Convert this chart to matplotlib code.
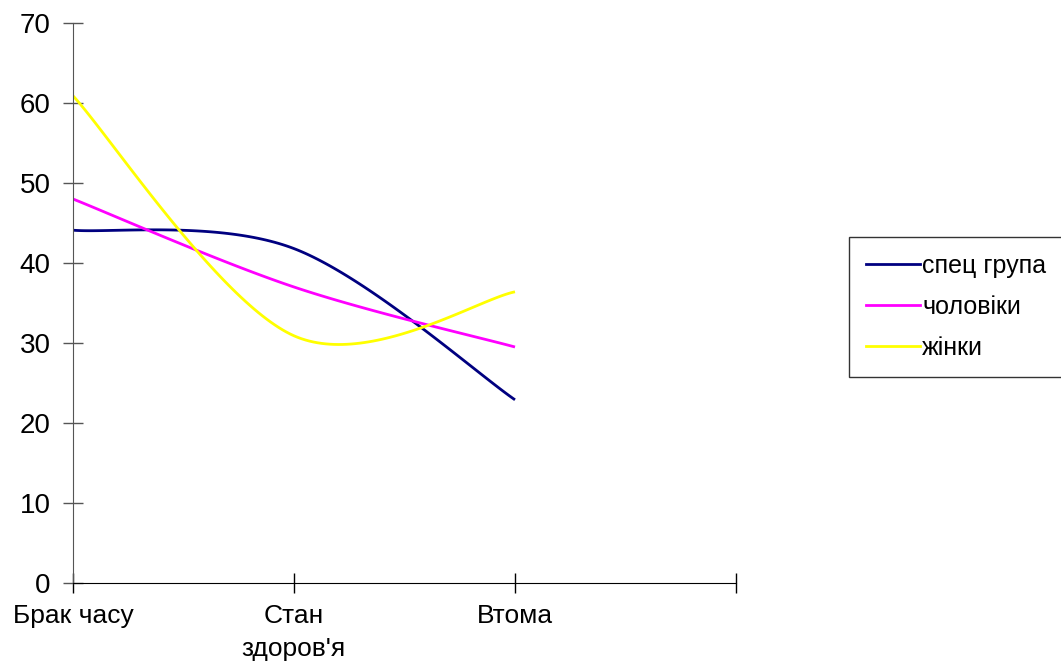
import numpy as np
import matplotlib
matplotlib.use("Agg")
import matplotlib.pyplot as plt
from matplotlib.lines import Line2D

plt.rcParams['font.family'] = ['Liberation Sans', 'DejaVu Sans']

categories = ["Брак часу", "Стан\nздоров'я", "Втома", ""]
series_names = ["спец група", "чоловіки", "жінки"]
spec_group = [44.1, 41.8, 22.9]
men = [48.0, 37.0, 29.5]
women = [60.9, 30.9, 36.4]
colors = ["#000080", "#FF00FF", "#FFFF00"]


def smooth(xs, ys, n=60):
    """Cubic Bezier smoothing through the points (Catmull-Rom style tangents)."""
    pts = np.column_stack([xs, ys]).astype(float)
    m = len(pts)
    out = []
    for i in range(m - 1):
        p0 = pts[i]
        p1 = pts[i + 1]
        pm = pts[i - 1] if i > 0 else pts[i]
        pn = pts[i + 2] if i + 2 < m else pts[i + 1]
        c1 = p0 + (p1 - pm) / 6.0
        c2 = p1 - (pn - p0) / 6.0
        t = np.linspace(0, 1, n)[:, None]
        seg = ((1 - t) ** 3) * p0 + 3 * ((1 - t) ** 2) * t * c1 + 3 * (1 - t) * t ** 2 * c2 + t ** 3 * p1
        out.append(seg if i == 0 else seg[1:])
    out = np.vstack(out)
    return out[:, 0], out[:, 1]


fig = plt.figure(figsize=(10.61, 6.64), dpi=100)
ax = fig.add_axes([73 / 1061, 1 - 583 / 664, (736 - 73) / 1061, (583 - 23) / 664])

x = np.arange(3)
handles = []
for name, vals, c in zip(series_names, [spec_group, men, women], colors):
    sx, sy = smooth(x, vals)
    ax.plot(sx, sy, color=c, lw=2.0, solid_capstyle='butt')
    handles.append(Line2D([], [], color=c, lw=2.0))

ax.set_xlim(0, 3)
ax.set_ylim(0, 70)
ax.set_yticks(range(0, 71, 10))
ax.set_xticks(range(4))
ax.set_xticklabels(categories, fontsize=19, linespacing=1.5)
ax.tick_params(axis='y', labelsize=20, direction='inout', length=14, width=1, colors='#555555', labelcolor='black', pad=9)
ax.tick_params(axis='x', direction='inout', length=14, width=1, color='black', pad=8)
for s in ['top', 'right']:
    ax.spines[s].set_visible(False)
ax.spines['left'].set_color('#555555')
ax.spines['bottom'].set_color('black')

leg = fig.legend(handles, series_names, loc='upper left',
                 bbox_to_anchor=(849 / 1061, 1 - 237 / 664), bbox_transform=fig.transFigure,
                 fontsize=18, frameon=True, fancybox=False, edgecolor='black',
                 handlelength=2.15, handletextpad=0.1, borderpad=0.68, labelspacing=0.68,
                 borderaxespad=0)
leg.get_frame().set_linewidth(1.0)

fig.savefig("out.png", dpi=100)
